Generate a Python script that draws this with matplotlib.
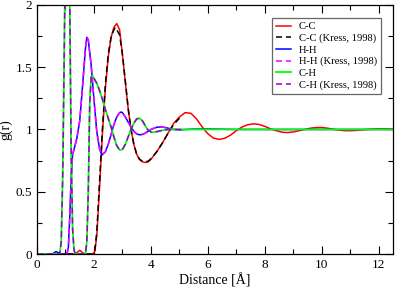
import matplotlib
matplotlib.use("Agg")
import matplotlib.pyplot as plt
from matplotlib.ticker import MultipleLocator

# radial distribution functions
# C-C (this work)
cc_r = [0.0, 1.3, 1.4, 1.5, 1.6, 1.7, 1.95, 2.03, 2.1, 2.2, 2.3, 2.4, 2.5, 2.6, 2.7, 2.8,
        2.9, 3.0, 3.1, 3.2, 3.3, 3.4, 3.5, 3.6, 3.7, 3.8, 3.9, 4.0, 4.2, 4.4, 4.6, 4.8,
        5.0, 5.2, 5.4, 5.6, 5.8, 6.0, 6.2, 6.4, 6.6, 6.8, 7.0, 7.2, 7.4, 7.6, 7.8, 8.0,
        8.2, 8.4, 8.6, 8.8, 9.0, 9.2, 9.4, 9.6, 9.8, 10.0, 10.2, 10.4, 10.6, 10.8, 11.0,
        11.2, 11.4, 11.6, 11.8, 12.0, 12.2, 12.5]
cc_g = [0.0, 0.0, 0.01, 0.03, 0.01, 0.0, 0.0, 0.02, 0.15, 0.55, 0.98, 1.33, 1.58, 1.74, 1.82, 1.85,
        1.8, 1.6, 1.38, 1.17, 1.0, 0.88, 0.8, 0.76, 0.74, 0.735, 0.74, 0.76, 0.82, 0.89, 0.97, 1.05,
        1.1, 1.135, 1.13, 1.085, 1.02, 0.965, 0.93, 0.92, 0.93, 0.955, 0.99, 1.02, 1.038, 1.045, 1.04, 1.025,
        1.005, 0.99, 0.978, 0.975, 0.98, 0.99, 1.0, 1.01, 1.015, 1.016, 1.01, 1.002, 0.995, 0.99, 0.99,
        0.992, 0.996, 1.0, 1.003, 1.005, 1.005, 1.003]

# C-C (Kress, 1998)
cck_r = [0.0, 1.95, 2.03, 2.1, 2.2, 2.3, 2.4, 2.5, 2.6, 2.7, 2.75, 2.8, 2.9, 3.0, 3.1, 3.2,
         3.3, 3.4, 3.5, 3.6, 3.7, 3.8, 3.9, 4.0, 4.2, 4.4, 4.6, 4.8, 5.0]
cck_g = [0.0, 0.0, 0.03, 0.18, 0.6, 1.02, 1.36, 1.6, 1.74, 1.8, 1.82, 1.8, 1.76, 1.6, 1.39, 1.17,
         1.0, 0.88, 0.8, 0.76, 0.745, 0.74, 0.745, 0.765, 0.82, 0.89, 0.97, 1.04, 1.09]

# H-H (this work)
hh_r = [0.0, 0.55, 0.6, 0.67, 0.75, 0.85, 1.05, 1.1, 1.15, 1.2, 1.25, 1.3, 1.4, 1.5, 1.6, 1.7,
        1.75, 1.8, 1.9, 2.0, 2.1, 2.2, 2.28, 2.4, 2.5, 2.6, 2.7, 2.8, 2.9, 2.95, 3.0, 3.1,
        3.2, 3.3, 3.4, 3.5, 3.6, 3.7, 3.8, 3.9, 4.0, 4.2, 4.4, 4.6, 4.8, 5.0, 5.5, 6.0,
        7.0, 8.0, 9.0, 10.0, 11.0, 12.0, 12.5]
hh_g = [0.0, 0.0, 0.01, 0.02, 0.01, 0.0, 0.0, 0.05, 0.3, 0.62, 0.8, 0.84, 0.93, 1.07, 1.35, 1.65,
        1.74, 1.72, 1.52, 1.24, 0.98, 0.84, 0.795, 0.82, 0.88, 0.96, 1.04, 1.1, 1.135, 1.14, 1.135, 1.1,
        1.06, 1.02, 0.985, 0.965, 0.957, 0.96, 0.97, 0.985, 1.0, 1.018, 1.02, 1.01, 1.0, 0.997, 1.003, 1.004,
        1.0, 1.0, 1.0, 1.0, 1.0, 1.0, 1.0]

# H-H (Kress, 1998)
hhk_r = [0.0, 1.05, 1.1, 1.15, 1.2, 1.25, 1.3, 1.4, 1.5, 1.6, 1.7, 1.75, 1.8, 1.9, 2.0, 2.1,
         2.2, 2.28, 2.4, 2.5, 2.6, 2.7, 2.8, 2.9, 2.95, 3.0, 3.1, 3.2, 3.3, 3.4, 3.5, 3.6,
         3.7, 3.8, 3.9, 4.0, 4.2, 4.4, 4.6, 4.8, 5.1]
hhk_g = [0.0, 0.0, 0.05, 0.3, 0.62, 0.8, 0.84, 0.93, 1.07, 1.35, 1.65, 1.74, 1.72, 1.52, 1.24, 0.98,
         0.84, 0.8, 0.82, 0.88, 0.96, 1.04, 1.1, 1.135, 1.14, 1.135, 1.1, 1.06, 1.02, 0.985, 0.962, 0.955,
         0.96, 0.97, 0.985, 1.0, 1.018, 1.02, 1.01, 1.0, 0.997]

# C-H (this work)
ch_r = [0.0, 0.8, 0.85, 0.9, 0.95, 1.0, 1.05, 1.1, 1.15, 1.2, 1.25, 1.3, 1.35, 1.7, 1.75, 1.8,
        1.85, 1.9, 1.95, 2.0, 2.1, 2.2, 2.3, 2.4, 2.5, 2.6, 2.7, 2.8, 2.9, 3.0, 3.1, 3.2,
        3.3, 3.4, 3.5, 3.6, 3.7, 3.8, 3.9, 4.0, 4.1, 4.2, 4.4, 4.6, 4.8, 5.0, 6.0, 7.0,
        8.0, 9.0, 10.0, 11.0, 12.0, 12.5]
ch_g = [0.0, 0.0, 0.1, 0.6, 1.5, 2.5, 3.0, 3.0, 2.0, 0.8, 0.2, 0.03, 0.0, 0.0, 0.1, 0.5,
        1.2, 1.42, 1.43, 1.41, 1.37, 1.31, 1.24, 1.16, 1.09, 1.02, 0.94, 0.87, 0.835, 0.84, 0.88, 0.94,
        1.0, 1.05, 1.085, 1.09, 1.07, 1.03, 0.995, 0.98, 0.978, 0.982, 0.993, 1.0, 1.0, 1.0, 1.0, 1.0,
        1.0, 1.0, 1.0, 1.0, 1.0, 1.0]

# C-H (Kress, 1998)
chk_r = [0.0, 0.8, 0.85, 0.9, 0.95, 1.0, 1.05, 1.1, 1.15, 1.2, 1.25, 1.3, 1.35, 1.7, 1.75, 1.8,
         1.85, 1.9, 1.95, 2.0, 2.1, 2.2, 2.3, 2.4, 2.5, 2.6, 2.7, 2.8, 2.9, 3.0, 3.1, 3.2,
         3.3, 3.4, 3.5, 3.6, 3.7, 3.8, 3.9, 4.0, 4.1, 4.2, 4.4, 4.6, 4.8, 5.1]
chk_g = [0.0, 0.0, 0.1, 0.6, 1.5, 2.5, 3.0, 3.0, 2.0, 0.8, 0.2, 0.03, 0.0, 0.0, 0.1, 0.5,
         1.2, 1.42, 1.43, 1.41, 1.37, 1.31, 1.24, 1.16, 1.09, 1.02, 0.94, 0.87, 0.835, 0.84, 0.88, 0.94,
         1.0, 1.05, 1.085, 1.09, 1.07, 1.03, 0.995, 0.98, 0.978, 0.982, 0.993, 1.0, 1.0, 1.0]

x_ticks = [0, 2, 4, 6, 8, 10, 12]
x_labels = ["0", "2", "4", "6", "8", "10", "12"]
y_ticks = [0, 0.5, 1, 1.5, 2]
y_labels = ["0", "0.5", "1", "1.5", "2"]

plt.rcParams['font.family'] = ['Liberation Serif', 'DejaVu Serif']

fig = plt.figure(figsize=(3.95, 2.88), dpi=100)
ax = fig.add_axes([0.0937, 0.118, 0.9013, 0.865])

lw = 1.1
dash = (0, (4, 2.5))
ax.plot(cc_r, cc_g, color='#ff0000', lw=lw, label='C-C')
ax.plot(cck_r, cck_g, color='black', lw=lw, ls=dash, label='C-C (Kress, 1998)')
ax.plot(hh_r, hh_g, color='#0000ff', lw=lw, label='H-H')
ax.plot(hhk_r, hhk_g, color='#ff00ff', lw=lw, ls=dash, label='H-H (Kress, 1998)')
ax.plot(ch_r, ch_g, color='#00ff00', lw=1.3, label='C-H')
ax.plot(chk_r, chk_g, color='#9400d3', lw=lw, ls=dash, label='C-H (Kress, 1998)')

ax.set_xlim(0, 12.5)
ax.set_ylim(0, 2)
ax.set_xticks(x_ticks, x_labels)
ax.set_yticks(y_ticks, y_labels)
ax.xaxis.set_minor_locator(MultipleLocator(1))
ax.yaxis.set_minor_locator(MultipleLocator(0.25))
ax.tick_params(which='both', direction='in', top=True, right=True, labelsize=9.5, width=0.8)
ax.tick_params(which='major', length=6)
ax.tick_params(which='minor', length=3.5)
for s in ax.spines.values():
    s.set_linewidth(0.9)

ax.set_xlabel('Distance [Å]', fontsize=10, labelpad=2)
ax.set_ylabel('g(r)', fontsize=10, labelpad=2)

leg = ax.legend(loc='upper right', bbox_to_anchor=(0.966, 0.948), fontsize=7.6,
                frameon=True, fancybox=False, framealpha=1, edgecolor='#666666',
                handlelength=1.45, handletextpad=0.7, labelspacing=0.2,
                borderpad=0.4, borderaxespad=0.0)
leg.get_frame().set_linewidth(0.9)

fig.savefig('out.png', dpi=100)
